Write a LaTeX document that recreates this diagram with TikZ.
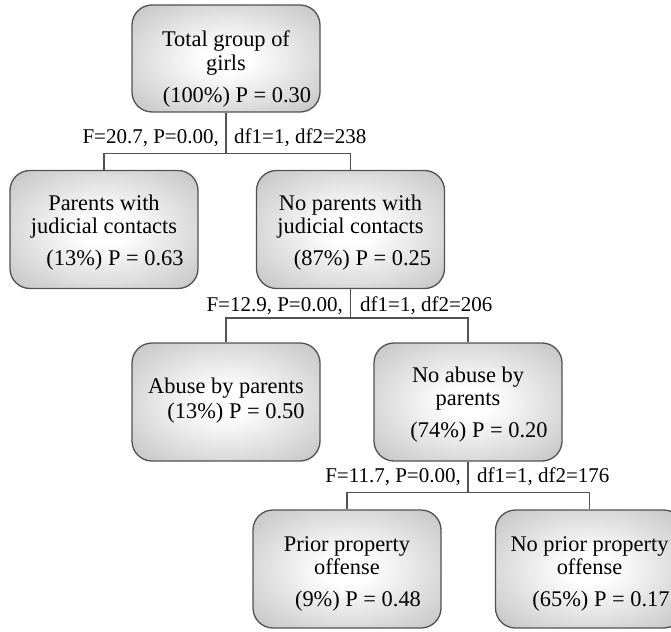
\documentclass[tikz,border=0pt]{standalone}
\usepackage{fontspec}
\setmainfont{Liberation Serif}
\pgfdeclareradialshading{boxshade}{\pgfpoint{0bp}{0bp}}{color(0bp)=(white); color(6bp)=(white); color(50bp)=(black!35)}
\tikzset{
  box/.style={draw=black!68, line width=1.3pt, rounded corners=20pt, shading=boxshade,
    minimum width=188pt, minimum height=118pt, inner sep=0pt},
  conn/.style={draw=black!68, line width=1.2pt},
  btext/.style={align=center, inner sep=0pt, anchor=north, font=\fontsize{22.4}{23.4}\selectfont},
  labl/.style={inner sep=0pt, anchor=base east, font=\fontsize{21}{24}\selectfont},
  labr/.style={inner sep=0pt, anchor=base west, font=\fontsize{21}{24}\selectfont}
}
\begin{document}
\begin{tikzpicture}[x=1pt,y=-1pt]
\useasboundingbox (0,0) rectangle (671,631);
\clip (0,0) rectangle (671,631);
% boxes
\node[box, minimum height=107pt] (root) at (226,58.5) {};
\node[box] (c1) at (104,229.5) {};
\node[box] (c2) at (350.5,229.5) {};
\node[box] (c3) at (226,402) {};
\node[box] (c4) at (468,402) {};
\node[box] (c5) at (347,569) {};
\node[box] (c6) at (589.5,569) {};
% texts
\node[btext] (t0) at (226,31) {Total group of\\girls\\[8.5pt]\hspace*{22pt}(100\%) P = 0.30};
\node[btext] (t1) at (104,194.5) {Parents with\\judicial contacts\\[8.5pt]\hspace*{22pt}(13\%) P = 0.63};
\node[btext] (t2) at (350.5,194.5) {No parents with\\judicial contacts\\[8.5pt]\hspace*{24pt}(87\%) P = 0.25};
\node[btext] (t3) at (226,378) {Abuse by parents\\[1.6pt]\hspace*{20pt}(13\%) P = 0.50};
\node[btext] (t4) at (468,366.3) {No abuse by\\parents\\[8.5pt]\hspace*{22pt}(74\%) P = 0.20};
\node[btext] (t5) at (347,536.3) {Prior property\\offense\\[8.5pt]\hspace*{22pt}(9\%) P = 0.48};
\node[btext] (t6) at (589.5,536) {No prior property\\offense\\[8.5pt]\hspace*{23pt}(65\%) P = 0.17};
% splits
\coordinate (s1) at (226,153.3);
\coordinate (s2) at (350.5,318);
\coordinate (s3) at (468,492.3);
\draw[conn] (root.south) -- (s1);
\draw[conn] (s1) -| (c1.north);
\draw[conn] (s1) -| (c2.north);
\draw[conn] (c2.south) -- (s2);
\draw[conn] (s2) -| (c3.north);
\draw[conn] (s2) -| (c4.north);
\draw[conn] (c4.south) -- (s3);
\draw[conn] (s3) -| (c5.north);
\draw[conn] (s3) -| (c6.north);
% labels
\node[labl] (l1a) at (219,143.3) {F=20.7, P=0.00,};
\node[labr] (l1b) at (234,143.3) {df1=1, df2=238};
\node[labl] (l2a) at (343,311.7) {F=12.9, P=0.00,};
\node[labr] (l2b) at (360,311.7) {df1=1, df2=206};
\node[labl] (l3a) at (461,482.7) {F=11.7, P=0.00,};
\node[labr] (l3b) at (477,482.7) {df1=1, df2=176};
\end{tikzpicture}
\end{document}
